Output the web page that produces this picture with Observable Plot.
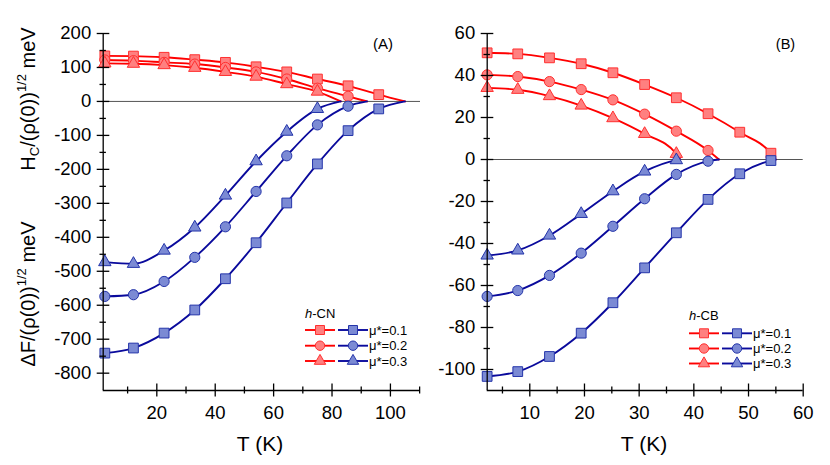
<!DOCTYPE html>
<html>
<head>
<meta charset="utf-8">
<script src="https://cdn.jsdelivr.net/npm/d3@7"></script>
<script src="https://cdn.jsdelivr.net/npm/@observablehq/plot@0.6"></script>
<style>
  html, body { margin: 0; padding: 0; background: #fff; }
  #wrap { position: relative; width: 830px; height: 465px; overflow: hidden; font-family: "Liberation Sans", Arial, sans-serif; }
  #wrap > svg { position: absolute; top: 0; }
</style>
</head>
<body>
<div id="wrap"></div>
<script>
// ---------- Data ----------
const seriesNames = ["μ*=0.1", "μ*=0.2", "μ*=0.3"];
const symbols = ["square", "circle", "triangle"];

// Panel A : h-CN
const tA = [2.2, 12, 22.5, 33, 43.5, 54, 64.5, 75, 85.5, 96];
const hcA_mu01 = [134, 133.5, 130, 123, 115, 102, 87, 66, 46, 20];
const hcA_mu02 = [122, 120, 115, 110, 100, 87, 66, 39, 15];
const hcA_mu03 = [112, 111, 107, 99, 87, 73, 51, 29];
const dfA_mu01 = [-741, -726, -682, -614, -522, -416, -299, -184, -86, -22];
const dfA_mu02 = [-574, -569, -530, -459, -369, -265, -160, -69, -14];
const dfA_mu03 = [-473, -478, -439, -371, -277, -176, -89, -22];
const tcA = [105, 92, 83];

// Panel B : h-CB
const tB = [2.2, 7.8, 13.6, 19.4, 25.2, 31, 36.8, 42.6, 48.4, 54.1];
const hcB_mu01 = [50.8, 50.3, 48.4, 45.6, 41.3, 35.7, 29.4, 21.8, 13, 3];
const hcB_mu02 = [40.3, 39.5, 37.1, 33.3, 28.4, 21.6, 13.5, 4.3];
const hcB_mu03 = [34.1, 33.2, 30.2, 25.7, 19.7, 12.2, 2.7];
const dfB_mu01 = [-103.3, -101, -93.8, -82.7, -68.2, -51.6, -34.9, -19, -6.8, -0.5];
const dfB_mu02 = [-65.2, -62.4, -55.2, -44.6, -31.8, -18.7, -7.1, -0.8];
const dfB_mu03 = [-45.7, -43.3, -36.2, -25.9, -15.1, -5.7, -0.3];
const tcB = [55, 44.6, 37.5];

// Axis ticks
const yMajorA = [-800, -700, -600, -500, -400, -300, -200, -100, 0, 100, 200];
const yMinorA = [-750, -650, -550, -450, -350, -250, -150, -50, 50, 150];
const xMajorA = [20, 40, 60, 80, 100];
const xMinorA = [10, 30, 50, 70, 90, 110];
const yMajorB = [-100, -80, -60, -40, -20, 0, 20, 40, 60];
const yMinorB = [-90, -70, -50, -30, -10, 10, 30, 50];
const xMajorB = [10, 20, 30, 40, 50, 60];
const xMinorB = [5, 15, 25, 35, 45, 55];

// ---------- Styling ----------
const RED_LINE = "#ff0000", RED_FILL = "#ff8080", RED_STROKE = "#ff3030";
const BLUE_LINE = "#0a0a9c", BLUE_FILL = "#7b8ad4", BLUE_STROKE = "#2535aa";
const R = {square: 5.5, circle: 5.1, triangle: 4.6};
const FONT = "Liberation Sans, Arial, sans-serif";

function buildRows(t, seriesVals, tc) {
  const pts = [], lines = [];
  seriesVals.forEach((vals, s) => {
    vals.forEach((v, i) => {
      pts.push({s, T: t[i], v});
      lines.push({s, T: t[i], v});
    });
    lines.push({s, T: tc[s], v: 0});
  });
  return {pts, lines};
}

function panel(cfg) {
  const hc = buildRows(cfg.t, cfg.hc, cfg.tc);
  const df = buildRows(cfg.t, cfg.df, cfg.tc);
  const marks = [
    Plot.ruleY([0], {stroke: "#555", strokeWidth: 1}),
    Plot.line(hc.lines, {x: "T", y: "v", z: "s", curve: "monotone-x", stroke: RED_LINE, strokeWidth: 1.9}),
  ];
  symbols.forEach((sym, s) => {
    marks.push(Plot.dot(hc.pts.filter(d => d.s === s), {x: "T", y: "v", symbol: sym, r: R[sym], fill: RED_FILL, stroke: RED_STROKE, strokeWidth: 1}));
  });
  marks.push(Plot.line(df.lines, {x: "T", y: "v", z: "s", curve: "monotone-x", stroke: BLUE_LINE, strokeWidth: 1.9}));
  symbols.forEach((sym, s) => {
    marks.push(Plot.dot(df.pts.filter(d => d.s === s), {x: "T", y: "v", symbol: sym, r: R[sym], fill: BLUE_FILL, stroke: BLUE_STROKE, strokeWidth: 1}));
  });
  marks.push(
    Plot.ruleX([cfg.xDomain[0]], {stroke: "#000", strokeWidth: 1.3}),
    Plot.ruleY([cfg.yDomain[0]], {stroke: "#000", strokeWidth: 1.3}),
    Plot.axisY({ticks: cfg.yMajor, tickSize: 0, tickPadding: 12, label: null, tickFormat: d => String(d), fontSize: 18.5}),
    Plot.axisY({ticks: cfg.yMajor, tickSize: 12.6, dx: 6.6, fill: "none", label: null, strokeWidth: 1.3}),
    Plot.axisY({ticks: cfg.yMinor, tickSize: 6.4, dx: 3.2, fill: "none", label: null, strokeWidth: 1.3}),
    Plot.axisX({ticks: cfg.xMajor, tickSize: 0, tickPadding: 15, label: null, tickFormat: d => String(d), fontSize: 18.5}),
    Plot.axisX({ticks: cfg.xMajor, tickSize: 13, dy: -6.5, fill: "none", label: null, strokeWidth: 1.3}),
    Plot.axisX({ticks: cfg.xMinor, tickSize: 7, dy: -3.5, fill: "none", label: null, strokeWidth: 1.3})
  );
  const svg = Plot.plot({
    width: cfg.width, height: 465,
    marginLeft: cfg.marginLeft, marginRight: cfg.marginRight, marginTop: 33, marginBottom: 75,
    x: {domain: cfg.xDomain, axis: null},
    y: {domain: cfg.yDomain, axis: null},
    style: {fontFamily: FONT, fontSize: "18.5px", background: "transparent", overflow: "visible", color: "#000"},
    marks
  });
  svg.style.left = cfg.left + "px";
  return svg;
}

const wrap = document.getElementById("wrap");
wrap.appendChild(panel({
  left: 0, width: 420, marginLeft: 102.7, marginRight: 0,
  xDomain: [1.64, 110.3], yDomain: [-851, 200],
  t: tA, hc: [hcA_mu01, hcA_mu02, hcA_mu03], df: [dfA_mu01, dfA_mu02, dfA_mu03], tc: tcA,
  yMajor: yMajorA, yMinor: yMinorA, xMajor: xMajorA, xMinor: xMinorA
}));
wrap.appendChild(panel({
  left: 420, width: 410, marginLeft: 66.7, marginRight: 27.3,
  xDomain: [2.21, 60], yDomain: [-110, 60],
  t: tB, hc: [hcB_mu01, hcB_mu02, hcB_mu03], df: [dfB_mu01, dfB_mu02, dfB_mu03], tc: tcB,
  yMajor: yMajorB, yMinor: yMinorB, xMajor: xMajorB, xMinor: xMinorB
}));

// ---------- Overlay: labels and legends ----------
const ov = d3.select(wrap).append("svg")
  .attr("width", 830).attr("height", 465)
  .style("left", "0px").style("pointer-events", "none")
  .attr("font-family", FONT);

ov.append("text").attr("transform", "translate(35,99) rotate(-90)").attr("text-anchor", "middle").attr("font-size", 20)
  .html('H<tspan font-size="13" dy="4">C</tspan><tspan dy="-4">/(ρ(0))</tspan><tspan font-size="13" dy="-9">1/2</tspan><tspan dy="9"> meV</tspan>');
ov.append("text").attr("transform", "translate(35,294) rotate(-90)").attr("text-anchor", "middle").attr("font-size", 20)
  .html('ΔF/(ρ(0))<tspan font-size="13" dy="-9">1/2</tspan><tspan dy="9"> meV</tspan>');

ov.append("text").attr("x", 260).attr("y", 451).attr("text-anchor", "middle").attr("font-size", 21).text("T (K)");
ov.append("text").attr("x", 644).attr("y", 451).attr("text-anchor", "middle").attr("font-size", 21).text("T (K)");
ov.append("text").attr("x", 383).attr("y", 49).attr("text-anchor", "middle").attr("font-size", 15).text("(A)");
ov.append("text").attr("x", 785.5).attr("y", 49).attr("text-anchor", "middle").attr("font-size", 14.5).text("(B)");

function legend(cfg) {
  const g = ov.append("g");
  g.append("text").attr("x", cfg.x0).attr("y", cfg.titleY).attr("font-size", 13)
    .html('<tspan font-style="italic">h</tspan>-' + cfg.name);
  seriesNames.forEach((name, i) => {
    const y = cfg.rowY[i];
    const sym = symbols[i];
    const shape = {square: d3.symbolSquare, circle: d3.symbolCircle, triangle: d3.symbolTriangle}[sym];
    const path = d3.symbol(shape, Math.PI * R[sym] * R[sym] * 0.85)();
    g.append("line").attr("x1", cfg.x0).attr("x2", cfg.x0 + 30).attr("y1", y).attr("y2", y).attr("stroke", RED_LINE).attr("stroke-width", 1.9);
    g.append("path").attr("d", path).attr("transform", `translate(${cfg.x0 + 15},${y})`).attr("fill", RED_FILL).attr("stroke", RED_STROKE);
    g.append("line").attr("x1", cfg.x0 + 33).attr("x2", cfg.x0 + 63).attr("y1", y).attr("y2", y).attr("stroke", BLUE_LINE).attr("stroke-width", 1.9);
    g.append("path").attr("d", path).attr("transform", `translate(${cfg.x0 + 48},${y})`).attr("fill", BLUE_FILL).attr("stroke", BLUE_STROKE);
    g.append("text").attr("x", cfg.x0 + 64).attr("y", y + 4.5).attr("font-size", 13).text(name);
  });
}
legend({name: "CN", x0: 305, titleY: 317.5, rowY: [330, 345.7, 361]});
legend({name: "CB", x0: 689, titleY: 319.5, rowY: [333.3, 348.5, 363.5]});
</script>
</body>
</html>
